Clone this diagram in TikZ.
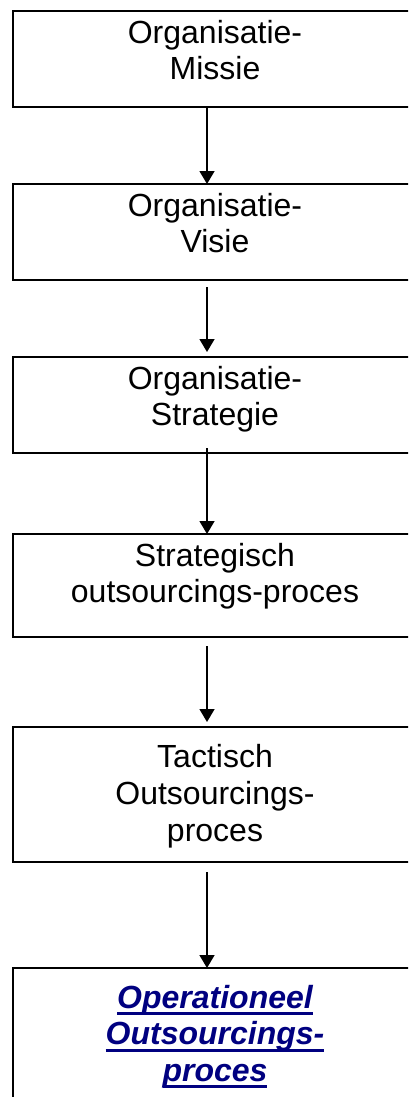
\documentclass[tikz,border=0pt]{standalone}
\usepackage{fontspec}
\setmainfont{Liberation Sans}
\usetikzlibrary{arrows.meta}
\definecolor{linkblue}{RGB}{0,0,128}
% underline drawn as a rule under the text, in the current colour
\newcommand{\linkline}[1]{\setbox0\hbox{#1}\rlap{\rule[-7pt]{\wd0}{3pt}}\box0}
\tikzset{
  stepbox/.style={draw, line width=1.5pt, rectangle, minimum width=404pt,
    inner sep=0pt, outer sep=0pt, anchor=north west},
  lbl/.style={align=center, inner sep=0pt, anchor=north,
    font=\fontsize{32pt}{36.8pt}\selectfont},
  linklbl/.style={lbl, text=linkblue,
    font=\fontsize{32pt}{36.5pt}\selectfont\bfseries\itshape},
  arr/.style={line width=1.5pt, -{Triangle[width=15pt,length=13pt]}}
}
\begin{document}
\begin{tikzpicture}[x=1pt,y=-1pt]
  \useasboundingbox (0,0) rectangle (408,1097);
  \clip (0,0) rectangle (408,1097);
  \coordinate (ax) at (207,0);

  \node[stepbox, minimum height=96pt]  (b1) at (13,11)  {};
  \node[stepbox, minimum height=96pt]  (b2) at (13,184) {};
  \node[stepbox, minimum height=96pt]  (b3) at (13,357) {};
  \node[stepbox, minimum height=103pt] (b4) at (13,534) {};
  \node[stepbox, minimum height=135pt] (b5) at (13,727) {};
  \node[stepbox, minimum height=145pt] (b6) at (13,968) {};

  \node[lbl] (t1) at (215,19.7)  {Organisatie-\\Missie};
  \node[lbl] (t2) at (215,192.7) {Organisatie-\\Visie};
  \node[lbl] (t3) at (215,365.7) {Organisatie-\\Strategie};
  \node[lbl] (t4) at (215,542.7) {Strategisch\\outsourcings-proces};
  \node[lbl] (t5) at (215,744.1) {Tactisch\\Outsourcings-\\proces};
  \node[linklbl] (t6) at (215,984.7)
    {\linkline{Operationeel}\\\linkline{Outsourcings-}\\\linkline{proces}};

  \draw[arr] (b1.south -| ax) -- (b2.north -| ax);
  \draw[arr, shorten <=7pt, shorten >=5pt] (b2.south -| ax) -- (b3.north -| ax);
  \draw[arr, shorten <=-5pt] (b3.south -| ax) -- (b4.north -| ax);
  \draw[arr, shorten <=9pt, shorten >=5pt] (b4.south -| ax) -- (b5.north -| ax);
  \draw[arr, shorten <=10pt] (b5.south -| ax) -- (b6.north -| ax);
\end{tikzpicture}
\end{document}
